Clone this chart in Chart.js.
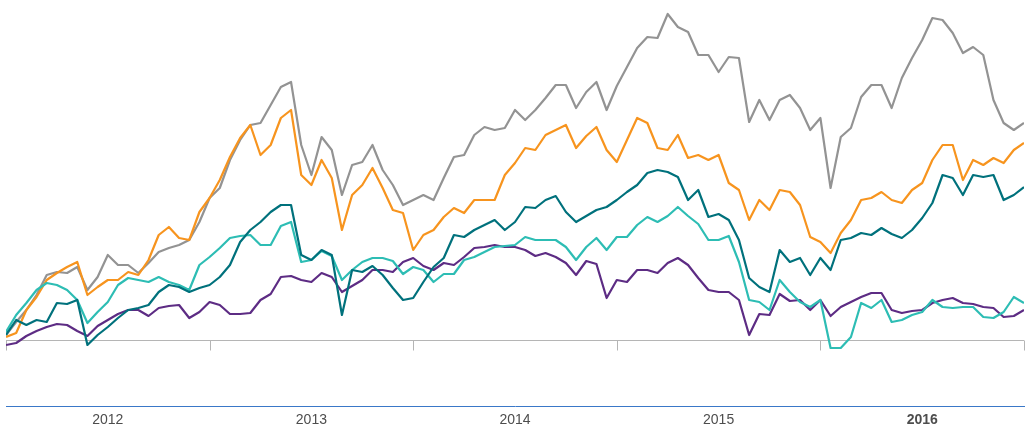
<!DOCTYPE html>
<html>
<head>
<meta charset="utf-8">
<script src="https://cdn.jsdelivr.net/npm/chart.js@4.4.1/dist/chart.umd.min.js"></script>
<style>
    html, body { margin: 0; padding: 0; background: #fff; }
    canvas { display: block; }
</style>
</head>
<body>
<canvas id="returnsChart" width="1029" height="429"></canvas>
<script>
// Cumulative return (%), one reading every 0.05 year
const firstYear = 2012;
const stepYears = 0.05;
const yearLabels = ['2012', '2013', '2014', '2015', '2016'];

const grayValues = [
    2.5, 9, 15, 22.5, 32.5, 34, 33.5, 36.5, 25, 31.5,
    42.5, 37.5, 37.5, 33.5, 38.5, 44, 46, 47.5, 50, 59,
    71, 76, 90, 100, 107.5, 108.5, 117.5, 126.5, 129, 97.5,
    82.5, 101.5, 95, 72.5, 87.5, 89, 97.5, 85, 77.5, 67.5,
    70, 72.5, 70, 81, 91.5, 92.5, 102.5, 106.5, 105, 106,
    115, 110, 115, 121, 127.5, 127.5, 116, 124, 129, 115,
    127, 136.5, 146, 151.5, 151, 163, 156.5, 154, 142.5, 142.5,
    134, 141.5, 141, 109, 120, 110, 120, 122.5, 116, 105,
    111, 76, 101.5, 106, 121.5, 127.5, 127.5, 116, 131, 141,
    150, 161, 160, 153.5, 143.5, 146.5, 142.5, 120, 108.5, 105,
    108.5
];
const orangeValues = [
    1.5, 3.5, 15, 21.5, 30, 33.5, 36.5, 39, 22.5, 26.5,
    30, 30, 34, 32.5, 40, 52.5, 56.5, 51, 50, 64,
    71, 80, 91.5, 101, 107.5, 92.5, 97.5, 111, 115, 82.5,
    77.5, 90, 81, 55, 72.5, 77.5, 86, 76, 65, 63.5,
    45, 52.5, 55, 61.5, 66, 63.5, 70, 70, 70, 82.5,
    88.5, 96, 95, 102.5, 105, 107.5, 96, 102, 106.5, 95,
    89, 100, 111, 108.5, 96, 95, 102.5, 91, 92.5, 90,
    92.5, 78.5, 75, 60, 70, 65, 75, 74, 67.5, 51.5,
    49, 43.5, 53.5, 60, 70, 71, 74, 70, 68.5, 75,
    78.5, 90, 97.5, 97.5, 80, 90, 87.5, 91, 88.5, 95,
    98.5
];
const tealValues = [
    2.5, 10, 7.5, 10, 9, 18.5, 18, 20, -2.5, 2.5,
    6.5, 11, 15, 16, 17.5, 24, 27.5, 26.5, 24, 26,
    27.5, 31.5, 37.5, 49, 55, 59, 64, 67.5, 67.5, 42.5,
    40, 45, 42.5, 12.5, 35, 34, 37, 32.5, 26, 20,
    21, 29, 36.5, 41, 52.5, 51.5, 55, 57.5, 60, 55,
    59, 66.5, 66, 70, 72, 64, 59, 62, 65, 66.5,
    70, 74, 77.5, 83.5, 85, 84, 81.5, 70, 75, 61.5,
    63, 60, 50, 31, 26.5, 24, 45, 39, 41, 32.5,
    41, 35, 50, 51, 53.5, 52.5, 56, 53, 51, 55,
    61, 68.5, 82.5, 81, 72.5, 82.5, 81.5, 82.5, 70, 72.5,
    76.5
];
const cyanValues = [
    4, 12.5, 18.5, 25, 28.5, 27.5, 25, 20, 8.5, 14,
    19, 27.5, 31, 30, 29, 31.5, 29, 27.5, 25, 37.5,
    41.5, 46, 51, 52, 52.5, 47.5, 47.5, 57, 59, 39,
    40, 44.5, 42, 30, 35, 39, 41, 41, 39.5, 33,
    36.5, 35, 29, 33, 33, 40, 41.5, 44, 46.5, 47,
    47.5, 51.5, 50, 50, 50, 46.5, 40, 46.5, 51, 45,
    51.5, 51.5, 57.5, 61.5, 59, 62, 66.5, 62, 58, 50,
    50, 52, 39, 20, 19, 15, 30, 24, 19, 16.5,
    20, -4, -4, 1.5, 18.5, 16, 20, 9, 10, 12.5,
    14, 20, 16.5, 16, 16.5, 16.5, 11.5, 11, 14, 21.5,
    18.5
];
const purpleValues = [
    -2.5, -1.5, 2, 4.5, 6.5, 8, 7.5, 4.5, 2, 7,
    10, 13, 15, 15, 12, 16, 17, 17.5, 11, 14,
    19, 17.5, 13, 13, 13.5, 20, 23, 31.5, 32, 30,
    29, 33.5, 31.5, 24, 27, 30, 35, 35, 34, 39,
    41, 37, 35, 38.5, 37.5, 41.5, 46, 46.5, 47.5, 46.5,
    46.5, 45, 42, 43.5, 41.5, 38.5, 32.5, 39.5, 38, 21,
    30, 29, 35, 35, 33.5, 38.5, 41, 37.5, 31, 25,
    24, 24, 20, 2.5, 13, 12.5, 23, 19.5, 20, 15,
    20, 12, 16.5, 19, 21.5, 23.5, 23.5, 15, 13.5, 14.5,
    15, 18.5, 20, 21, 18.5, 18, 16.5, 16, 11.5, 12,
    15
];

const dates = grayValues.map((_, i) => firstYear + i * stepYears);

function toPoints(values) {
    return values.map((v, i) => ({ x: dates[i], y: v }));
}

// gray zero line with small year ticks hanging below it
const baselinePlugin = {
    id: 'baseline',
    beforeDatasetsDraw(chart) {
        const { ctx, scales: { x, y } } = chart;
        const y0 = Math.round(y.getPixelForValue(0)) + 0.5;
        ctx.save();
        ctx.strokeStyle = '#b5b5b5';
        ctx.lineWidth = 1;
        ctx.beginPath();
        ctx.moveTo(x.left, y0);
        ctx.lineTo(x.right, y0);
        for (let yr = firstYear; yr <= firstYear + yearLabels.length; yr++) {
            const px = Math.round(x.getPixelForValue(yr)) + 0.5;
            ctx.moveTo(px, y0);
            ctx.lineTo(px, y0 + 10);
        }
        ctx.stroke();
        ctx.restore();
    }
};

const ctx = document.getElementById('returnsChart').getContext('2d');
new Chart(ctx, {
    type: 'line',
    data: {
        datasets: [
            { label: 'Teal', data: toPoints(tealValues), borderColor: '#00717c' },
            { label: 'Cyan', data: toPoints(cyanValues), borderColor: '#2dbdb4' },
            { label: 'Purple', data: toPoints(purpleValues), borderColor: '#5d2c84' },
            { label: 'Orange', data: toPoints(orangeValues), borderColor: '#f7941e' },
            { label: 'Gray', data: toPoints(grayValues), borderColor: '#939393' }
        ]
    },
    options: {
        responsive: false,
        animation: false,
        layout: { padding: { left: 6, right: 5, top: 0, bottom: 0 } },
        plugins: {
            legend: { display: false },
            tooltip: { enabled: false }
        },
        elements: {
            point: { radius: 0 },
            line: { borderWidth: 2.2, tension: 0, borderJoinStyle: 'round' }
        },
        scales: {
            x: {
                type: 'linear',
                min: firstYear,
                max: firstYear + yearLabels.length,
                grid: { display: false, drawTicks: false },
                border: { display: true, color: '#3a78c8', width: 1 },
                afterFit: axis => { axis.height = 23; },
                afterBuildTicks: axis => {
                    axis.ticks = yearLabels.map((_, i) => ({ value: firstYear + i + 0.5 }));
                },
                ticks: {
                    autoSkip: false,
                    maxRotation: 0,
                    padding: 6,
                    color: '#4d4d4d',
                    font: c => ({
                        family: '"Liberation Sans", Arial, sans-serif',
                        size: 14,
                        weight: c.index === yearLabels.length - 1 ? 'bold' : 'normal'
                    }),
                    callback: (value, index) => yearLabels[index]
                }
            },
            y: { display: false, min: -33, max: 170 }
        }
    },
    plugins: [baselinePlugin]
});
</script>
</body>
</html>
